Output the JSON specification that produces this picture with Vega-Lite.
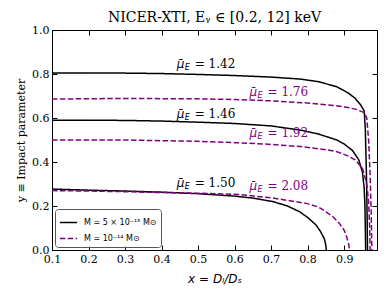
{
  "$schema": "https://vega.github.io/schema/vega-lite/v6.json",
  "width": 325,
  "height": 220,
  "autosize": {"type": "none"},
  "padding": {"left": 52, "top": 30, "right": 13, "bottom": 43},
  "background": "white",
  "title": {"text": "NICER-XTI, Eᵧ ∈ [0.2, 12] keV", "font": "DejaVu Serif", "fontSize": 14, "fontWeight": "normal", "offset": -1, "color": "black"},
  "config": {
    "view": {"stroke": "black", "strokeWidth": 1},
    "axis": {"grid": false, "domainColor": "black", "tickColor": "black", "labelColor": "black", "titleColor": "black", "labelFont": "DejaVu Serif", "labelFontSize": 11, "titleFontWeight": "normal"},
    "legend": {"labelFont": "DejaVu Sans", "labelFontSize": 8, "labelColor": "black"}
  },
  "datasets": {
    "curves": [
      {"M": "M = 5 × 10⁻¹⁵ M⊙", "curve": "s1", "x": 0.1, "y": 0.805},
      {"M": "M = 5 × 10⁻¹⁵ M⊙", "curve": "s1", "x": 0.2, "y": 0.805},
      {"M": "M = 5 × 10⁻¹⁵ M⊙", "curve": "s1", "x": 0.3, "y": 0.804},
      {"M": "M = 5 × 10⁻¹⁵ M⊙", "curve": "s1", "x": 0.4, "y": 0.802},
      {"M": "M = 5 × 10⁻¹⁵ M⊙", "curve": "s1", "x": 0.5, "y": 0.798},
      {"M": "M = 5 × 10⁻¹⁵ M⊙", "curve": "s1", "x": 0.6, "y": 0.793},
      {"M": "M = 5 × 10⁻¹⁵ M⊙", "curve": "s1", "x": 0.7, "y": 0.786},
      {"M": "M = 5 × 10⁻¹⁵ M⊙", "curve": "s1", "x": 0.78, "y": 0.777},
      {"M": "M = 5 × 10⁻¹⁵ M⊙", "curve": "s1", "x": 0.83, "y": 0.765},
      {"M": "M = 5 × 10⁻¹⁵ M⊙", "curve": "s1", "x": 0.88, "y": 0.742},
      {"M": "M = 5 × 10⁻¹⁵ M⊙", "curve": "s1", "x": 0.91, "y": 0.715},
      {"M": "M = 5 × 10⁻¹⁵ M⊙", "curve": "s1", "x": 0.93, "y": 0.69},
      {"M": "M = 5 × 10⁻¹⁵ M⊙", "curve": "s1", "x": 0.945, "y": 0.66},
      {"M": "M = 5 × 10⁻¹⁵ M⊙", "curve": "s1", "x": 0.955, "y": 0.632},
      {"M": "M = 5 × 10⁻¹⁵ M⊙", "curve": "s1", "x": 0.958, "y": 0.55},
      {"M": "M = 5 × 10⁻¹⁵ M⊙", "curve": "s1", "x": 0.961, "y": 0.35},
      {"M": "M = 5 × 10⁻¹⁵ M⊙", "curve": "s1", "x": 0.963, "y": 0.15},
      {"M": "M = 5 × 10⁻¹⁵ M⊙", "curve": "s1", "x": 0.964, "y": 0.0},
      {"M": "M = 5 × 10⁻¹⁵ M⊙", "curve": "s2", "x": 0.1, "y": 0.59},
      {"M": "M = 5 × 10⁻¹⁵ M⊙", "curve": "s2", "x": 0.2, "y": 0.59},
      {"M": "M = 5 × 10⁻¹⁵ M⊙", "curve": "s2", "x": 0.3, "y": 0.589},
      {"M": "M = 5 × 10⁻¹⁵ M⊙", "curve": "s2", "x": 0.4, "y": 0.586},
      {"M": "M = 5 × 10⁻¹⁵ M⊙", "curve": "s2", "x": 0.5, "y": 0.581},
      {"M": "M = 5 × 10⁻¹⁵ M⊙", "curve": "s2", "x": 0.6, "y": 0.575},
      {"M": "M = 5 × 10⁻¹⁵ M⊙", "curve": "s2", "x": 0.7, "y": 0.564},
      {"M": "M = 5 × 10⁻¹⁵ M⊙", "curve": "s2", "x": 0.78, "y": 0.545},
      {"M": "M = 5 × 10⁻¹⁵ M⊙", "curve": "s2", "x": 0.83, "y": 0.527},
      {"M": "M = 5 × 10⁻¹⁵ M⊙", "curve": "s2", "x": 0.88, "y": 0.5},
      {"M": "M = 5 × 10⁻¹⁵ M⊙", "curve": "s2", "x": 0.9, "y": 0.482},
      {"M": "M = 5 × 10⁻¹⁵ M⊙", "curve": "s2", "x": 0.923, "y": 0.452},
      {"M": "M = 5 × 10⁻¹⁵ M⊙", "curve": "s2", "x": 0.94, "y": 0.41},
      {"M": "M = 5 × 10⁻¹⁵ M⊙", "curve": "s2", "x": 0.95, "y": 0.355},
      {"M": "M = 5 × 10⁻¹⁵ M⊙", "curve": "s2", "x": 0.955, "y": 0.28},
      {"M": "M = 5 × 10⁻¹⁵ M⊙", "curve": "s2", "x": 0.957, "y": 0.2},
      {"M": "M = 5 × 10⁻¹⁵ M⊙", "curve": "s2", "x": 0.958, "y": 0.1},
      {"M": "M = 5 × 10⁻¹⁵ M⊙", "curve": "s2", "x": 0.959, "y": 0.0},
      {"M": "M = 5 × 10⁻¹⁵ M⊙", "curve": "s3", "x": 0.1, "y": 0.277},
      {"M": "M = 5 × 10⁻¹⁵ M⊙", "curve": "s3", "x": 0.2, "y": 0.272},
      {"M": "M = 5 × 10⁻¹⁵ M⊙", "curve": "s3", "x": 0.3, "y": 0.268},
      {"M": "M = 5 × 10⁻¹⁵ M⊙", "curve": "s3", "x": 0.4, "y": 0.263},
      {"M": "M = 5 × 10⁻¹⁵ M⊙", "curve": "s3", "x": 0.5, "y": 0.256},
      {"M": "M = 5 × 10⁻¹⁵ M⊙", "curve": "s3", "x": 0.6, "y": 0.245},
      {"M": "M = 5 × 10⁻¹⁵ M⊙", "curve": "s3", "x": 0.65, "y": 0.236},
      {"M": "M = 5 × 10⁻¹⁵ M⊙", "curve": "s3", "x": 0.705, "y": 0.22},
      {"M": "M = 5 × 10⁻¹⁵ M⊙", "curve": "s3", "x": 0.745, "y": 0.2},
      {"M": "M = 5 × 10⁻¹⁵ M⊙", "curve": "s3", "x": 0.778, "y": 0.174},
      {"M": "M = 5 × 10⁻¹⁵ M⊙", "curve": "s3", "x": 0.8, "y": 0.148},
      {"M": "M = 5 × 10⁻¹⁵ M⊙", "curve": "s3", "x": 0.823, "y": 0.114},
      {"M": "M = 5 × 10⁻¹⁵ M⊙", "curve": "s3", "x": 0.835, "y": 0.085},
      {"M": "M = 5 × 10⁻¹⁵ M⊙", "curve": "s3", "x": 0.846, "y": 0.05},
      {"M": "M = 5 × 10⁻¹⁵ M⊙", "curve": "s3", "x": 0.85, "y": 0.02},
      {"M": "M = 5 × 10⁻¹⁵ M⊙", "curve": "s3", "x": 0.851, "y": 0.0},
      {"M": "M = 10⁻¹⁴ M⊙", "curve": "d1", "x": 0.1, "y": 0.686},
      {"M": "M = 10⁻¹⁴ M⊙", "curve": "d1", "x": 0.3, "y": 0.689},
      {"M": "M = 10⁻¹⁴ M⊙", "curve": "d1", "x": 0.5, "y": 0.687},
      {"M": "M = 10⁻¹⁴ M⊙", "curve": "d1", "x": 0.6, "y": 0.684},
      {"M": "M = 10⁻¹⁴ M⊙", "curve": "d1", "x": 0.7, "y": 0.678},
      {"M": "M = 10⁻¹⁴ M⊙", "curve": "d1", "x": 0.8, "y": 0.668},
      {"M": "M = 10⁻¹⁴ M⊙", "curve": "d1", "x": 0.87, "y": 0.657},
      {"M": "M = 10⁻¹⁴ M⊙", "curve": "d1", "x": 0.91, "y": 0.648},
      {"M": "M = 10⁻¹⁴ M⊙", "curve": "d1", "x": 0.935, "y": 0.638},
      {"M": "M = 10⁻¹⁴ M⊙", "curve": "d1", "x": 0.955, "y": 0.625},
      {"M": "M = 10⁻¹⁴ M⊙", "curve": "d1", "x": 0.962, "y": 0.6},
      {"M": "M = 10⁻¹⁴ M⊙", "curve": "d1", "x": 0.967, "y": 0.5},
      {"M": "M = 10⁻¹⁴ M⊙", "curve": "d1", "x": 0.971, "y": 0.35},
      {"M": "M = 10⁻¹⁴ M⊙", "curve": "d1", "x": 0.974, "y": 0.18},
      {"M": "M = 10⁻¹⁴ M⊙", "curve": "d1", "x": 0.976, "y": 0.0},
      {"M": "M = 10⁻¹⁴ M⊙", "curve": "d2", "x": 0.1, "y": 0.5},
      {"M": "M = 10⁻¹⁴ M⊙", "curve": "d2", "x": 0.3, "y": 0.5},
      {"M": "M = 10⁻¹⁴ M⊙", "curve": "d2", "x": 0.5, "y": 0.494},
      {"M": "M = 10⁻¹⁴ M⊙", "curve": "d2", "x": 0.6, "y": 0.488},
      {"M": "M = 10⁻¹⁴ M⊙", "curve": "d2", "x": 0.7, "y": 0.48},
      {"M": "M = 10⁻¹⁴ M⊙", "curve": "d2", "x": 0.78, "y": 0.47},
      {"M": "M = 10⁻¹⁴ M⊙", "curve": "d2", "x": 0.85, "y": 0.456},
      {"M": "M = 10⁻¹⁴ M⊙", "curve": "d2", "x": 0.88, "y": 0.447},
      {"M": "M = 10⁻¹⁴ M⊙", "curve": "d2", "x": 0.91, "y": 0.428},
      {"M": "M = 10⁻¹⁴ M⊙", "curve": "d2", "x": 0.93, "y": 0.41},
      {"M": "M = 10⁻¹⁴ M⊙", "curve": "d2", "x": 0.95, "y": 0.372},
      {"M": "M = 10⁻¹⁴ M⊙", "curve": "d2", "x": 0.962, "y": 0.3},
      {"M": "M = 10⁻¹⁴ M⊙", "curve": "d2", "x": 0.967, "y": 0.22},
      {"M": "M = 10⁻¹⁴ M⊙", "curve": "d2", "x": 0.97, "y": 0.1},
      {"M": "M = 10⁻¹⁴ M⊙", "curve": "d2", "x": 0.971, "y": 0.0},
      {"M": "M = 10⁻¹⁴ M⊙", "curve": "d3", "x": 0.1, "y": 0.27},
      {"M": "M = 10⁻¹⁴ M⊙", "curve": "d3", "x": 0.2, "y": 0.268},
      {"M": "M = 10⁻¹⁴ M⊙", "curve": "d3", "x": 0.3, "y": 0.265},
      {"M": "M = 10⁻¹⁴ M⊙", "curve": "d3", "x": 0.4, "y": 0.261},
      {"M": "M = 10⁻¹⁴ M⊙", "curve": "d3", "x": 0.5, "y": 0.258},
      {"M": "M = 10⁻¹⁴ M⊙", "curve": "d3", "x": 0.614, "y": 0.252},
      {"M": "M = 10⁻¹⁴ M⊙", "curve": "d3", "x": 0.705, "y": 0.236},
      {"M": "M = 10⁻¹⁴ M⊙", "curve": "d3", "x": 0.796, "y": 0.212},
      {"M": "M = 10⁻¹⁴ M⊙", "curve": "d3", "x": 0.83, "y": 0.195},
      {"M": "M = 10⁻¹⁴ M⊙", "curve": "d3", "x": 0.85, "y": 0.174},
      {"M": "M = 10⁻¹⁴ M⊙", "curve": "d3", "x": 0.87, "y": 0.15},
      {"M": "M = 10⁻¹⁴ M⊙", "curve": "d3", "x": 0.887, "y": 0.121},
      {"M": "M = 10⁻¹⁴ M⊙", "curve": "d3", "x": 0.9, "y": 0.09},
      {"M": "M = 10⁻¹⁴ M⊙", "curve": "d3", "x": 0.906, "y": 0.065},
      {"M": "M = 10⁻¹⁴ M⊙", "curve": "d3", "x": 0.912, "y": 0.03},
      {"M": "M = 10⁻¹⁴ M⊙", "curve": "d3", "x": 0.915, "y": 0.0}
    ],
    "labels": [
      {"M": "M = 5 × 10⁻¹⁵ M⊙", "x": 0.4415, "y": 0.826, "value": "= 1.42"},
      {"M": "M = 5 × 10⁻¹⁵ M⊙", "x": 0.4415, "y": 0.601, "value": "= 1.46"},
      {"M": "M = 5 × 10⁻¹⁵ M⊙", "x": 0.4415, "y": 0.288, "value": "= 1.50"},
      {"M": "M = 10⁻¹⁴ M⊙", "x": 0.641, "y": 0.70, "value": "= 1.76"},
      {"M": "M = 10⁻¹⁴ M⊙", "x": 0.641, "y": 0.512, "value": "= 1.92"},
      {"M": "M = 10⁻¹⁴ M⊙", "x": 0.641, "y": 0.273, "value": "= 2.08"}
    ]
  },
  "layer": [
    {
      "data": {"name": "curves"},
      "mark": {"type": "line", "strokeWidth": 1.5, "clip": true},
      "encoding": {
        "x": {"field": "x", "type": "quantitative",
              "scale": {"domain": [0.1, 0.99], "nice": false, "zero": false},
              "axis": {"orient": "bottom", "values": [0.1,0.2,0.3,0.4,0.5,0.6,0.7,0.8,0.9], "format": ".1f", "tickSize": -5, "labelPadding": 8, "title": "x = Dₗ/Dₛ", "titleFont": "DejaVu Sans", "titleFontStyle": "italic", "titleFontSize": 12, "titlePadding": 9, "labelFlush": false}},
        "y": {"field": "y", "type": "quantitative",
              "scale": {"domain": [0, 1], "nice": false, "zero": false},
              "axis": {"orient": "left", "values": [0,0.2,0.4,0.6,0.8,1.0], "format": ".1f", "tickSize": -5, "labelPadding": 8, "title": "y ≡ Impact parameter", "titleFont": "DejaVu Serif", "titleFontSize": 11, "titlePadding": 5, "labelFlush": false}},
        "color": {"field": "M", "type": "nominal",
                  "scale": {"domain": ["M = 5 × 10⁻¹⁵ M⊙", "M = 10⁻¹⁴ M⊙"], "range": ["black", "#800080"]},
                  "legend": {"title": null, "orient": "bottom-left", "offset": 3, "padding": 4, "strokeColor": "#555555", "fillColor": "rgba(255,255,255,0.8)", "cornerRadius": 3, "symbolType": "stroke", "symbolSize": 300, "symbolStrokeWidth": 1.5, "rowPadding": 2, "labelOffset": 6}},
        "strokeDash": {"field": "M", "type": "nominal",
                  "scale": {"domain": ["M = 5 × 10⁻¹⁵ M⊙", "M = 10⁻¹⁴ M⊙"], "range": [[1, 0], [5.5, 2.4]]},
                  "legend": {"title": null, "orient": "bottom-left", "offset": 3, "padding": 4, "strokeColor": "#555555", "fillColor": "rgba(255,255,255,0.8)", "cornerRadius": 3, "symbolType": "stroke", "symbolSize": 300, "symbolStrokeWidth": 1.5, "rowPadding": 2, "labelOffset": 6}},
        "detail": {"field": "curve"}
      }
    },
    {
      "data": {"name": "labels"},
      "mark": {"type": "text", "align": "left", "baseline": "alphabetic", "font": "DejaVu Sans", "fontStyle": "italic", "fontSize": 12},
      "encoding": {
        "x": {"field": "x", "type": "quantitative", "axis": {"orient": "top", "values": [0.1,0.2,0.3,0.4,0.5,0.6,0.7,0.8,0.9], "tickSize": -5, "labels": false, "title": null}},
        "y": {"field": "y", "type": "quantitative", "axis": {"orient": "right", "values": [0,0.2,0.4,0.6,0.8,1.0], "tickSize": -5, "labels": false, "title": null}},
        "text": {"value": "μ̄"},
        "color": {"field": "M", "type": "nominal", "legend": null}
      }
    },
    {
      "data": {"name": "labels"},
      "mark": {"type": "text", "align": "left", "baseline": "alphabetic", "font": "DejaVu Sans", "fontStyle": "italic", "fontSize": 8, "dx": 8, "dy": 2},
      "encoding": {
        "x": {"field": "x", "type": "quantitative", "axis": null},
        "y": {"field": "y", "type": "quantitative", "axis": null},
        "text": {"value": "E"},
        "color": {"field": "M", "type": "nominal", "legend": null}
      }
    },
    {
      "data": {"name": "labels"},
      "mark": {"type": "text", "align": "left", "baseline": "alphabetic", "font": "DejaVu Serif", "fontSize": 12, "dx": 18},
      "encoding": {
        "x": {"field": "x", "type": "quantitative", "axis": null},
        "y": {"field": "y", "type": "quantitative", "axis": null},
        "text": {"field": "value"},
        "color": {"field": "M", "type": "nominal", "legend": null}
      }
    }
  ],
  "resolve": {"axis": {"x": "independent", "y": "independent"}}
}
